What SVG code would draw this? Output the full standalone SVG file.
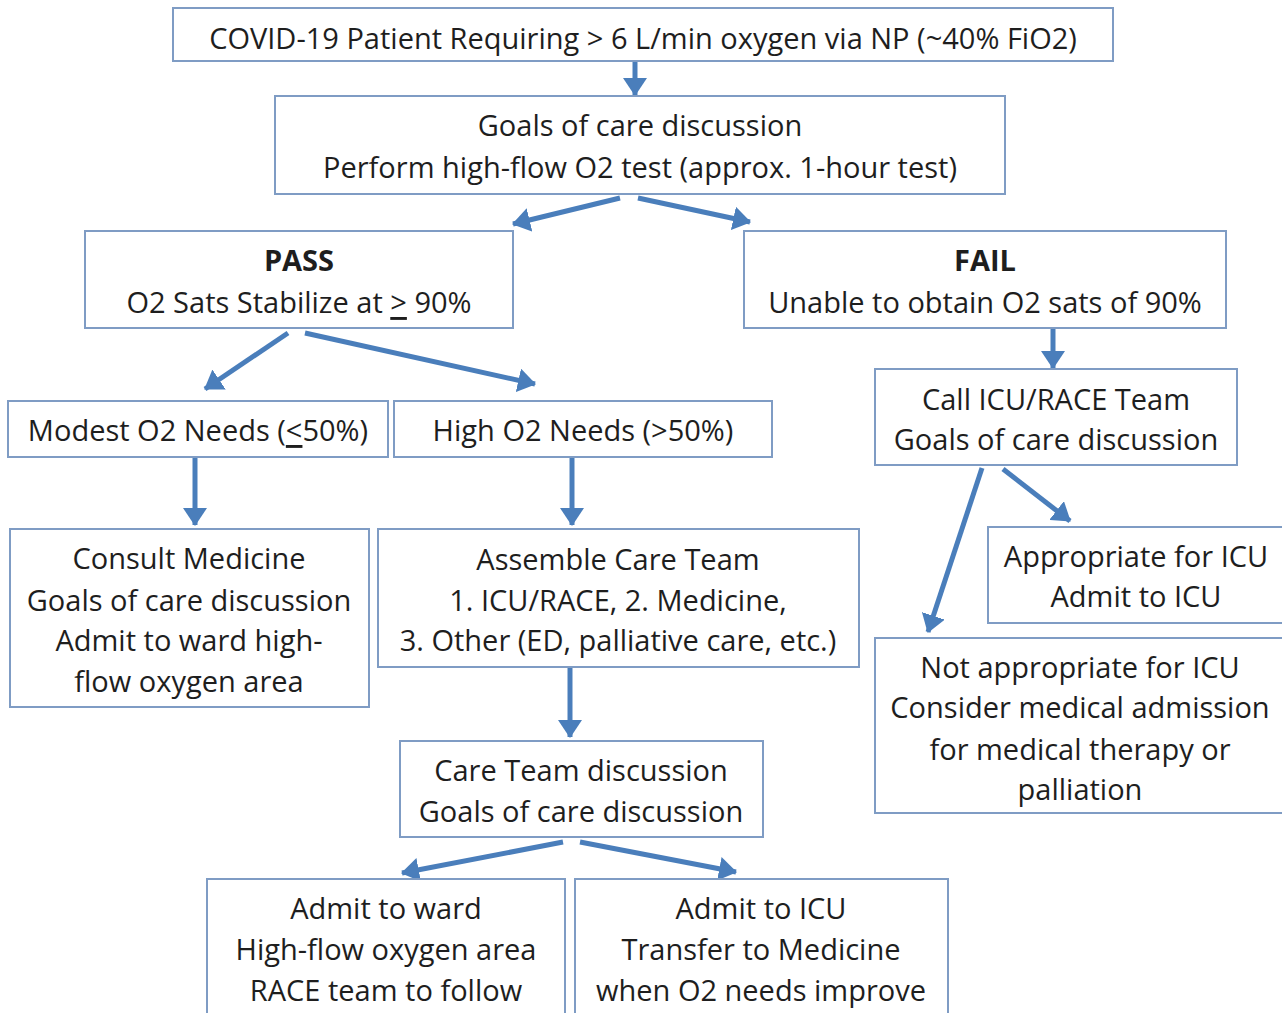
<svg xmlns="http://www.w3.org/2000/svg" width="1282" height="1013" viewBox="0 0 1282 1013">
<style>
.box{fill:#fff;stroke:#7f9cc4;stroke-width:2}
.t{font-family:"Open Sans","Liberation Sans",sans-serif;font-size:29px;fill:#1e1e1e;text-anchor:middle;dominant-baseline:central}
.b{font-weight:bold}
.c{stroke:#4a7ebb;stroke-width:5;fill:none;marker-end:url(#ah)}
</style>
<defs>
<marker id="ah" viewBox="0 0 18 24" refX="17" refY="12" markerWidth="18" markerHeight="24" markerUnits="userSpaceOnUse" orient="auto">
<path d="M0,0 L18,12 L0,24 z" fill="#4a7ebb"/>
</marker>
</defs>
<rect width="1282" height="1013" fill="#fff"/>
<g id="connectors">
<line class="c" x1="635" y1="61" x2="635" y2="95"/>
<line class="c" x1="620" y1="198" x2="513" y2="224"/>
<line class="c" x1="638" y1="198" x2="750" y2="222"/>
<line class="c" x1="288" y1="333" x2="205" y2="389"/>
<line class="c" x1="305" y1="333" x2="535" y2="384"/>
<line class="c" x1="1053" y1="328" x2="1053" y2="368"/>
<line class="c" x1="195" y1="457" x2="195" y2="525"/>
<line class="c" x1="572" y1="457" x2="572" y2="525"/>
<line class="c" x1="570" y1="667" x2="570" y2="737"/>
<line class="c" x1="1003" y1="469" x2="1070" y2="521"/>
<line class="c" x1="982" y1="468" x2="928" y2="632"/>
<line class="c" x1="563" y1="842" x2="402" y2="873"/>
<line class="c" x1="580" y1="842" x2="736" y2="872"/>
</g>
<g id="n1"><rect class="box" x="173" y="8" width="940" height="53"/>
<text class="t" x="643" y="37">COVID-19 Patient Requiring &gt; 6 L/min oxygen via NP (~40% FiO2)</text></g>
<g id="n2"><rect class="box" x="275" y="96" width="730" height="98"/>
<text class="t" x="640" y="124">Goals of care discussion</text>
<text class="t" x="640" y="166">Perform high-flow O2 test (approx. 1-hour test)</text></g>
<g id="n3"><rect class="box" x="85" y="231" width="428" height="97"/>
<text class="t b" x="299" y="259">PASS</text>
<text class="t" x="299" y="301">O2 Sats Stabilize at <tspan text-decoration="underline">&gt;</tspan> 90%</text></g>
<g id="n4"><rect class="box" x="744" y="231" width="482" height="97"/>
<text class="t b" x="985" y="259">FAIL</text>
<text class="t" x="985" y="301">Unable to obtain O2 sats of 90%</text></g>
<g id="n5"><rect class="box" x="8" y="401" width="380" height="56"/>
<text class="t" x="198" y="429">Modest O2 Needs (<tspan text-decoration="underline">&lt;</tspan>50%)</text></g>
<g id="n6"><rect class="box" x="394" y="401" width="378" height="56"/>
<text class="t" x="583" y="429">High O2 Needs (&gt;50%)</text></g>
<g id="n7"><rect class="box" x="875" y="369" width="362" height="96"/>
<text class="t" x="1056" y="398">Call ICU/RACE Team</text>
<text class="t" x="1056" y="438">Goals of care discussion</text></g>
<g id="n8"><rect class="box" x="10" y="529" width="359" height="178"/>
<text class="t" x="189" y="557">Consult Medicine</text>
<text class="t" x="189" y="599">Goals of care discussion</text>
<text class="t" x="189" y="639">Admit to ward high-</text>
<text class="t" x="189" y="680">flow oxygen area</text></g>
<g id="n9"><rect class="box" x="378" y="529" width="481" height="138"/>
<text class="t" x="618" y="558">Assemble Care Team</text>
<text class="t" x="618" y="599">1. ICU/RACE, 2. Medicine,</text>
<text class="t" x="618" y="639">3. Other (ED, palliative care, etc.)</text></g>
<g id="n10"><rect class="box" x="988" y="527" width="300" height="96"/>
<text class="t" x="1136" y="555">Appropriate for ICU</text>
<text class="t" x="1136" y="595">Admit to ICU</text></g>
<g id="n11"><rect class="box" x="875" y="638" width="412" height="175"/>
<text class="t" x="1080" y="666">Not appropriate for ICU</text>
<text class="t" x="1080" y="706">Consider medical admission</text>
<text class="t" x="1080" y="748">for medical therapy or</text>
<text class="t" x="1080" y="788">palliation</text></g>
<g id="n12"><rect class="box" x="400" y="741" width="363" height="96"/>
<text class="t" x="581" y="769">Care Team discussion</text>
<text class="t" x="581" y="810">Goals of care discussion</text></g>
<g id="n13"><rect class="box" x="207" y="879" width="358" height="140"/>
<text class="t" x="386" y="907">Admit to ward</text>
<text class="t" x="386" y="948">High-flow oxygen area</text>
<text class="t" x="386" y="989">RACE team to follow</text></g>
<g id="n14"><rect class="box" x="575" y="879" width="373" height="140"/>
<text class="t" x="761" y="907">Admit to ICU</text>
<text class="t" x="761" y="948">Transfer to Medicine</text>
<text class="t" x="761" y="989">when O2 needs improve</text></g>
</svg>
